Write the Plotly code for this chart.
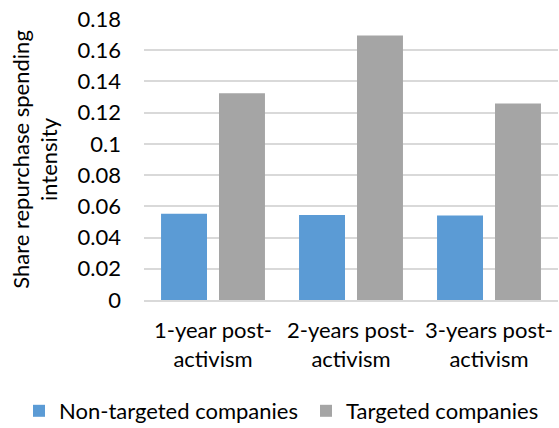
import plotly.graph_objects as go

categories = ["1-year post-<br>activism", "2-years post-<br>activism", "3-years post-<br>activism"]
non_targeted = [0.0552, 0.0545, 0.0541]
targeted = [0.1325, 0.1695, 0.1258]
y_ticks = [0, 0.02, 0.04, 0.06, 0.08, 0.1, 0.12, 0.14, 0.16, 0.18]
y_tick_labels = ["0", "0.02", "0.04", "0.06", "0.08", "0.1", "0.12", "0.14", "0.16", "0.18"]

FONT = "Lato"
FS = 22
fig = go.Figure()
fig.add_trace(go.Bar(x=categories, y=non_targeted, name="Non-targeted companies",
                     marker=dict(color="#5B9BD5", line=dict(width=0)), legend="legend"))
fig.add_trace(go.Bar(x=categories, y=targeted, name="Targeted companies",
                     marker=dict(color="#A5A5A5", line=dict(width=0)), legend="legend2"))

leg_common = dict(orientation="h", xref="container", xanchor="left",
                  yref="container", yanchor="middle", font=dict(size=FS),
                  itemwidth=30, borderwidth=0, bgcolor="rgba(0,0,0,0)")

fig.update_layout(
    width=559, height=428,
    margin=dict(l=144, r=1, t=19, b=128, autoexpand=False),
    paper_bgcolor="white", plot_bgcolor="white",
    barmode="group", bargap=0.16, bargroupgap=0.207,
    font=dict(family=FONT, size=FS, color="#000000"),
    legend=dict(x=19 / 559, y=17 / 428, **leg_common),
    legend2=dict(x=306 / 559, y=17 / 428, **leg_common),
    showlegend=True,
)
fig.update_yaxes(range=[0, 0.18], tickvals=y_ticks, ticktext=y_tick_labels,
                 showgrid=True, gridcolor="#D9D9D9", gridwidth=1.5, automargin=False,
                 zeroline=False, showline=False, ticks="", ticklabelstandoff=22,
                 title=dict(text="Share repurchase spending<br>intensity", standoff=13,
                            font=dict(size=FS)))
fig.update_xaxes(showline=True, linecolor="#D9D9D9", linewidth=1.5, automargin=False,
                 ticks="", ticklabelstandoff=10, tickfont=dict(size=FS))

fig.write_html("out.html", config={"displayModeBar": False},
               post_script="document.body.style.margin='0';")
